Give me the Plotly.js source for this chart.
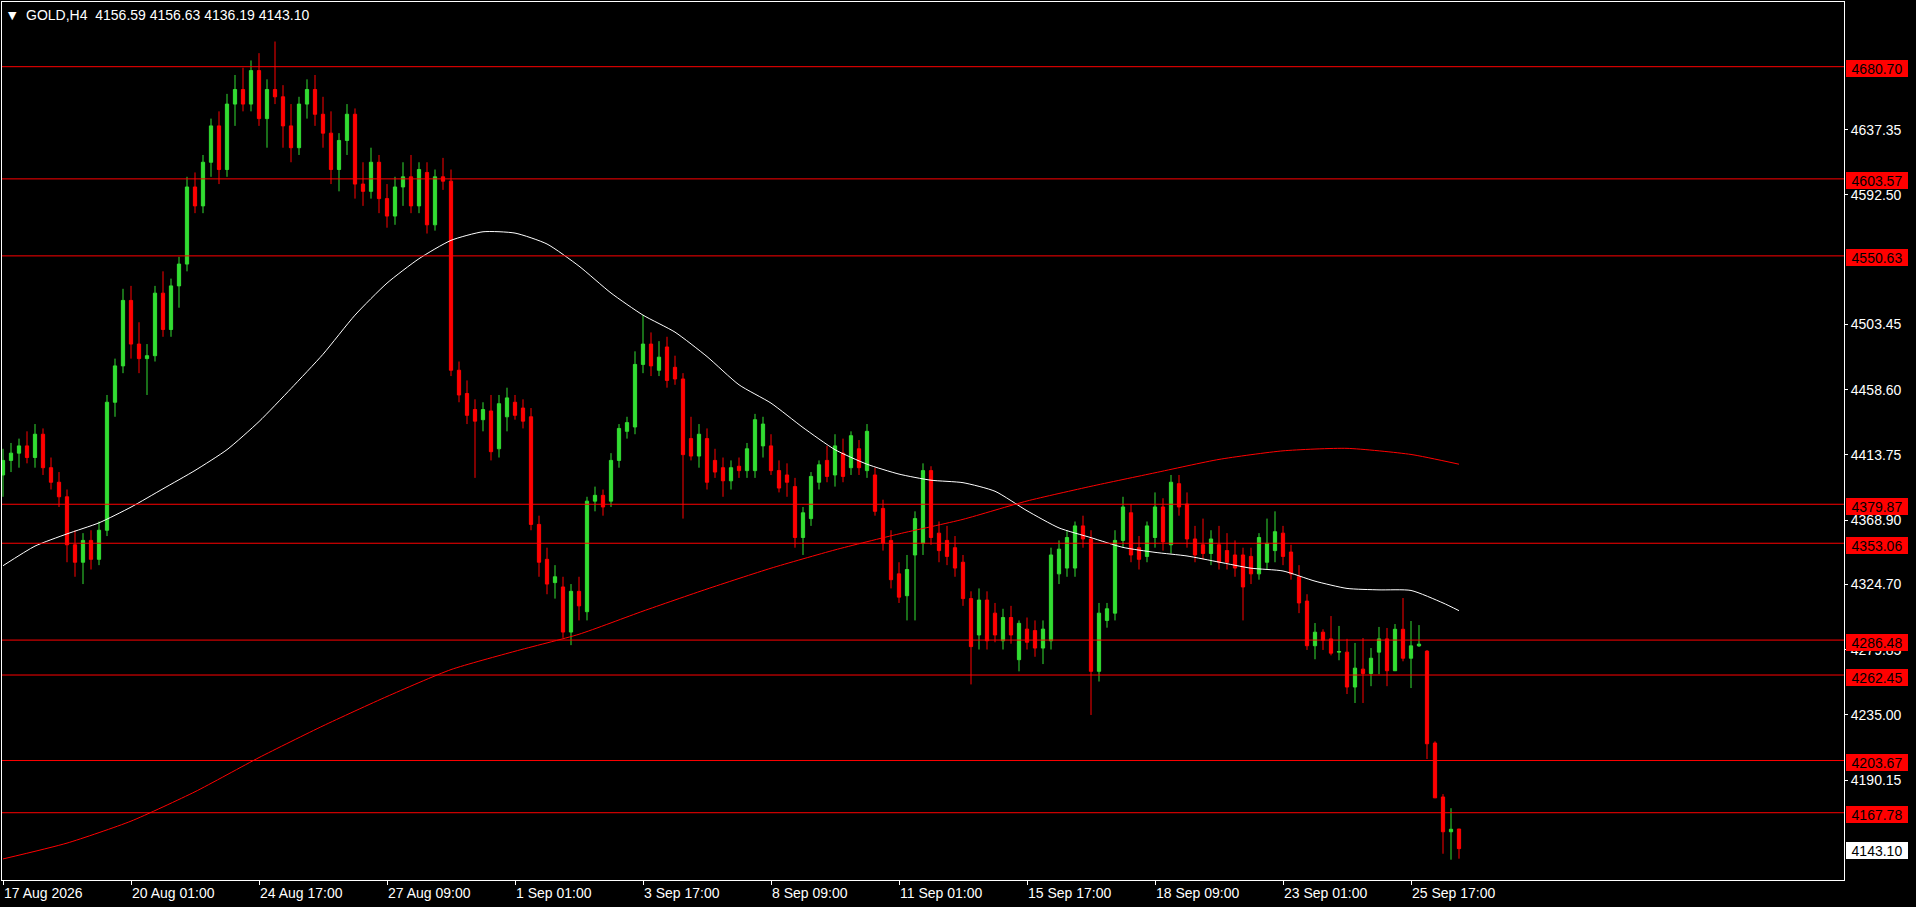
<!DOCTYPE html>
<html>
<head>
<meta charset="utf-8">
<script src="https://cdn.plot.ly/plotly-3.0.1.min.js"></script>
<style>
html,body{margin:0;padding:0;background:#000;overflow:hidden;}
#chart{width:1916px;height:907px;}
</style>
</head>
<body>
<div id="chart"></div>
<script>
// ---- data ----
const symbolTitle = "GOLD,H4\u00a0\u00a04156.59 4156.63 4136.19 4143.10";

const xTickIdx = [0,16,32,48,64,80,96,112,128,144,160,176];
const xTickText = ["17 Aug 2026","20 Aug 01:00","24 Aug 17:00","27 Aug 09:00","1 Sep 01:00","3 Sep 17:00","8 Sep 09:00","11 Sep 01:00","15 Sep 17:00","18 Sep 09:00","23 Sep 01:00","25 Sep 17:00"];

const yTickVals = [4637.35,4592.50,4503.45,4458.60,4413.75,4368.90,4324.70,4279.85,4235.00,4190.15];
const yTickText = ["4637.35","4592.50","4503.45","4458.60","4413.75","4368.90","4324.70","4279.85","4235.00","4190.15"];

const levels = [4680.70,4603.57,4550.63,4379.87,4353.06,4286.48,4262.45,4203.67,4167.78];
const lastPrice = 4143.10;

const open = [
4400,4410,4415,4420,4412,4428,4405,4395,4385,4352,
4340,4355,4342,4362,4450,4475,4520,4490,4480,4482,
4525,4500,4530,4545,4598,4585,4615,4640,4610,4655,
4665,4655,4678,4645,4665,4660,4640,4625,4655,4665,
4648,4635,4610,4630,4648,4600,4595,4615,4590,4578,
4598,4605,4585,4608,4572,4605,4602,4472,4456,4445,
4438,4444,4418,4440,4450,4446,4440,4366,4342,4326,
4323,4292,4320,4306,4382,4386,4382,4410,4430,4433,
4476,4490,4472,4488,4474,4466,4425,4413,4425,4410,
4405,4396,4406,4403,4403,4420,4420,4403,4400,4392,
4357,4370,4395,4410,4400,4415,4405,4418,4403,4400,
4377,4355,4332,4317,4345,4353,4403,4360,4355,4350,
4340,4315,4290,4314,4305,4286,4302,4273,4294,4293,
4281,4286,4332,4336,4336,4365,4356,4265,4300,4305,
4355,4374,4350,4344,4357,4378,4352,4394,4380,4356,
4352,4346,4352,4348,4345,4345,4344,4332,4340,4348,
4360,4347,4330,4313.3,4282.6,4291.9,4287.3,4278.2,4278.2,4254.2,
4266.5,4263.5,4278.2,4287.3,4265.4,4293.9,4274.0,4282.5,4278.9,4215.7,
4178.6,4154.7,4156.59];
const high = [
4418,4422,4425,4430,4435,4432,4412,4402,4390,4362,
4360,4362,4368,4455,4480,4528,4530,4505,4490,4530,
4540,4535,4550,4605,4608,4620,4645,4650,4662,4675,
4680,4685,4690,4672,4698,4668,4655,4660,4672,4675,
4660,4650,4635,4655,4652,4615,4625,4620,4600,4605,
4615,4620,4615,4615,4610,4618,4610,4478,4465,4452,
4450,4455,4455,4460,4455,4452,4446,4372,4350,4338,
4330,4325,4330,4385,4392,4390,4415,4435,4440,4485,
4510,4498,4492,4495,4482,4470,4440,4435,4432,4418,
4412,4410,4412,4422,4442,4440,4428,4410,4408,4398,
4378,4402,4410,4420,4428,4425,4430,4424,4435,4405,
4383,4362,4340,4345,4375,4408,4406,4368,4365,4358,
4345,4320,4322,4320,4312,4308,4310,4300,4302,4300,
4300,4350,4355,4362,4368,4372,4362,4312,4312,4362,
4385,4380,4358,4368,4388,4384,4400,4400,4388,4365,
4370,4362,4365,4360,4355,4350,4350,4360,4370,4375,
4365,4352,4338,4318.0,4298.2,4293.9,4303.0,4296.2,4287.3,4284.5,
4287.9,4281.0,4295.5,4294.8,4297.5,4315.4,4299.6,4296.8,4279.6,4216.9,
4180.6,4170.9,4156.63];
const low = [
4385,4402,4405,4408,4405,4400,4390,4378,4340,4330,
4325,4335,4338,4358,4440,4470,4480,4470,4455,4478,
4495,4495,4515,4540,4580,4580,4605,4600,4605,4640,
4650,4650,4640,4625,4655,4625,4615,4620,4645,4640,
4625,4600,4595,4620,4590,4585,4590,4580,4570,4572,
4585,4580,4580,4566,4568,4596,4468,4450,4435,4398,
4430,4410,4412,4430,4438,4432,4362,4330,4318,4315,
4288,4283,4300,4300,4375,4372,4378,4405,4425,4428,
4470,4468,4468,4460,4462,4370,4410,4405,4390,4398,
4385,4390,4398,4398,4398,4412,4400,4388,4385,4350,
4345,4365,4390,4395,4392,4395,4400,4400,4398,4372,
4348,4322,4312,4300,4300,4345,4352,4340,4338,4330,
4310,4256,4280,4280,4285,4280,4284,4265,4280,4275,
4270,4280,4325,4330,4330,4350,4235,4258,4295,4300,
4350,4340,4335,4340,4350,4348,4346,4372,4350,4340,
4342,4338,4335,4335,4330,4300,4325,4328,4335,4340,
4338,4328,4305,4279.7,4273.3,4279.7,4276.0,4272.6,4249.4,4243.2,
4243.2,4254.8,4263.0,4254.8,4265.4,4271.9,4253.5,4281.8,4204.7,4178.0,
4139.6,4135.5,4136.19];
const close = [
4410,4415,4420,4412,4428,4405,4395,4385,4352,4340,
4355,4342,4362,4450,4475,4520,4490,4480,4482,4525,
4500,4530,4545,4598,4585,4615,4640,4610,4655,4665,
4655,4678,4645,4665,4660,4640,4625,4655,4665,4648,
4635,4610,4630,4648,4600,4595,4615,4590,4578,4598,
4605,4585,4610,4572,4605,4602,4472,4455,4441,4437,
4445,4416,4449,4453,4441,4437,4366,4340,4325,4330,
4292,4320,4310,4382,4386,4378,4410,4432,4436,4476,
4490,4475,4481,4465,4466,4414,4413,4428,4395,4402,
4396,4405,4403,4418,4438,4435,4403,4391,4395,4357,
4374,4399,4407,4399,4420,4399,4427,4405,4430,4375,
4353,4328,4316,4335,4370,4403,4357,4348,4344,4336,
4315,4282,4314,4286,4290,4302,4290,4298,4285,4281,
4294,4345,4349,4357,4365,4356,4265,4305,4308,4355,
4378,4345,4342,4365,4378,4354,4395,4378,4356,4345,
4346,4356,4340,4340,4336,4323,4332,4357,4353,4361,
4344,4332,4312,4282.6,4291.9,4286.4,4277.5,4278.6,4254.2,4267.2,
4263.5,4274.0,4287.3,4265.4,4293.9,4274.0,4282.5,4283.7,4215.2,4178.0,
4154.7,4156.4,4143.10];

const maWhiteIdx = [0,4,8,12,16,20,24,28,32,36,40,44,48,52,56,60,64,68,72,76,80,84,88,92,96,100,104,108,112,116,120,124,128,132,136,140,144,148,152,156,160,164,168,172,176,180,182];
const maWhite = [4337.6,4351.1,4359.5,4367.1,4377.9,4390.5,4403.1,4417.4,4436.7,4459.4,4483.0,4509.9,4531.9,4548.7,4561.3,4567.2,4566.3,4558.8,4543.6,4525.1,4509.9,4498.2,4481.4,4462.0,4449.4,4432.6,4417.4,4407.4,4400.6,4396.4,4394.7,4388.8,4375.4,4363.6,4356.9,4350.2,4346.8,4344.3,4340.1,4335.9,4334.0,4327.0,4322.0,4321.0,4320.6,4312.0,4306.7];
const maRedIdx = [0,8,16,24,32,40,48,56,64,72,80,88,96,104,112,120,128,136,144,152,160,168,176,182];
const maRed = [4136.0,4146.9,4162.0,4182.2,4205.7,4227.5,4247.7,4266.2,4278.8,4290.5,4306.4,4321.6,4335.9,4348.5,4359.5,4369.5,4382.1,4392.2,4401.5,4410.7,4416.6,4418.3,4414.1,4407.4];

// ---- chart ----
const idx = close.map((_, i) => i);
const green = '#32dc32';
const FONT = 'Liberation Sans, Arial, sans-serif';

const traces = [
  {
    type: 'candlestick', x: idx, open: open, high: high, low: low, close: close,
    increasing: {line: {color: green, width: 1}, fillcolor: green},
    decreasing: {line: {color: '#ff0000', width: 1}, fillcolor: '#ff0000'},
    whiskerwidth: 0, hoverinfo: 'skip', showlegend: false
  },
  {type: 'scatter', mode: 'lines', x: maRedIdx, y: maRed, line: {color: '#ff0000', width: 1, shape: 'spline', smoothing: 0.6}, hoverinfo: 'skip', showlegend: false},
  {type: 'scatter', mode: 'lines', x: maWhiteIdx, y: maWhite, line: {color: '#ffffff', width: 1, shape: 'spline', smoothing: 0.6}, hoverinfo: 'skip', showlegend: false}
];

const shapes = levels.map(v => ({
  type: 'line', xref: 'paper', x0: 0, x1: 1, yref: 'y', y0: v, y1: v,
  line: {color: '#ff0000', width: 1}, layer: 'above'
}));

const annotations = levels.map(v => ({
  xref: 'paper', x: 1, xanchor: 'left', xshift: 2,
  yref: 'y', y: v, yanchor: 'middle', yshift: -2,
  text: v.toFixed(2), showarrow: false,
  font: {family: FONT, size: 14, color: '#000'},
  bgcolor: '#ff0000', borderwidth: 0, borderpad: 1, width: 60, height: 15
}));
annotations.push({
  xref: 'paper', x: 1, xanchor: 'left', xshift: 2,
  yref: 'y', y: lastPrice, yanchor: 'middle', yshift: -2,
  text: lastPrice.toFixed(2), showarrow: false,
  font: {family: FONT, size: 14, color: '#000'},
  bgcolor: '#ffffff', borderwidth: 0, borderpad: 1, width: 60, height: 15
});
annotations.push({
  xref: 'paper', x: 0, xanchor: 'left', xshift: 4,
  yref: 'paper', y: 1, yanchor: 'middle', yshift: -13,
  text: '\u25BC', showarrow: false,
  font: {family: 'DejaVu Sans, sans-serif', size: 11, color: '#ffffff'}
});
annotations.push({
  xref: 'paper', x: 0, xanchor: 'left', xshift: 22,
  yref: 'paper', y: 1, yanchor: 'middle', yshift: -13,
  text: symbolTitle, showarrow: false,
  font: {family: FONT, size: 14, color: '#ffffff'}
});

const layout = {
  width: 1916, height: 907,
  margin: {l: 2, r: 72, t: 2, b: 27},
  paper_bgcolor: '#000000', plot_bgcolor: '#000000',
  boxgap: 0.42,
  showlegend: false,
  font: {family: FONT, size: 14, color: '#ffffff'},
  xaxis: {
    range: [-0.125, 230.125], showgrid: false, zeroline: false,
    rangeslider: {visible: false},
    tickmode: 'array', tickvals: xTickIdx, ticktext: xTickText,
    ticks: 'outside', ticklen: 4, tickcolor: '#ffffff', tickwidth: 1,
    ticklabelposition: 'outside right',
    tickfont: {family: FONT, size: 14, color: '#ffffff'},
    showline: true, mirror: true, linecolor: '#ffffff', linewidth: 1
  },
  yaxis: {
    side: 'right', range: [4121.53, 4725.18], showgrid: false, zeroline: false,
    tickmode: 'array', tickvals: yTickVals, ticktext: yTickText,
    ticks: 'outside', ticklen: 3, tickcolor: '#ffffff', tickwidth: 1,
    tickfont: {family: FONT, size: 14, color: '#ffffff'},
    showline: true, mirror: true, linecolor: '#ffffff', linewidth: 1
  },
  shapes: shapes,
  annotations: annotations
};

Plotly.newPlot('chart', traces, layout, {displayModeBar: false, staticPlot: true});
</script>
</body>
</html>
